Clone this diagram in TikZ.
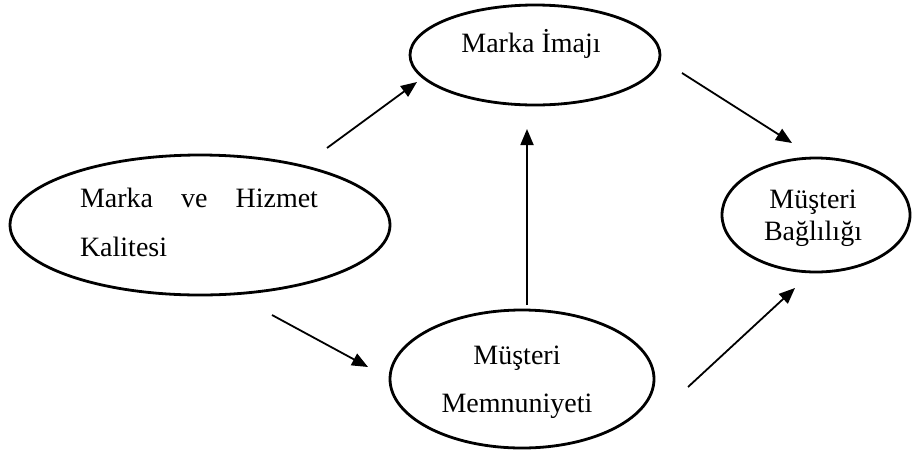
\documentclass[tikz,border=0pt]{standalone}
\usepackage{fontspec}
\setmainfont{Liberation Serif}
\usetikzlibrary{shapes.geometric,arrows.meta}

\tikzset{
  oval/.style={ellipse, draw, line width=2.8pt, inner sep=0pt},
  metin/.style={align=center, inner sep=0pt},
  ok/.style={-{Triangle[length=16pt,width=13pt]}, line width=1.8pt}
}

\begin{document}
\begin{tikzpicture}[x=1pt, y=-1pt]
  \useasboundingbox (0,0) rectangle (912,456);
  % the four constructs
  \node[oval, minimum width=380pt, minimum height=140pt] (kalite) at (200,225) {};
  \node[oval, minimum width=250pt, minimum height=100pt] (imaj) at (535,55) {};
  \node[oval, minimum width=264pt, minimum height=138pt] (memnun) at (522,379) {};
  \node[oval, minimum width=188pt, minimum height=114pt] (baglilik) at (816,215) {};
  \node[metin, align=left, font=\fontsize{28}{49}\selectfont] (kalitetxt) at (199,222)
    {\makebox[238pt][s]{Marka ve Hizmet}\\Kalitesi};
  \node[metin, font=\fontsize{28}{34}\selectfont] (imajtxt) at (531,44) {Marka İmajı};
  \node[metin, font=\fontsize{28}{48}\selectfont] (memnuntxt) at (517,382)
    {Müşteri\\Memnuniyeti};
  \node[metin, font=\fontsize{28}{32}\selectfont] (bagliliktxt) at (813,218)
    {Müşteri\\Bağlılığı};
  % arrow ends sit in the gaps between the ovals
  \coordinate (k1) at (327,148); \coordinate (i1) at (417,82);
  \coordinate (k2) at (272,315); \coordinate (m1) at (368,367);
  \coordinate (m2) at (527,305); \coordinate (i2) at (527,129);
  \coordinate (i3) at (682,73);  \coordinate (b1) at (792,143);
  \coordinate (m3) at (688,387); \coordinate (b2) at (795,288);
  \draw[ok] (k1) -- (i1);
  \draw[ok] (k2) -- (m1);
  \draw[ok] (m2) -- (i2);
  \draw[ok] (i3) -- (b1);
  \draw[ok] (m3) -- (b2);
\end{tikzpicture}
\end{document}
